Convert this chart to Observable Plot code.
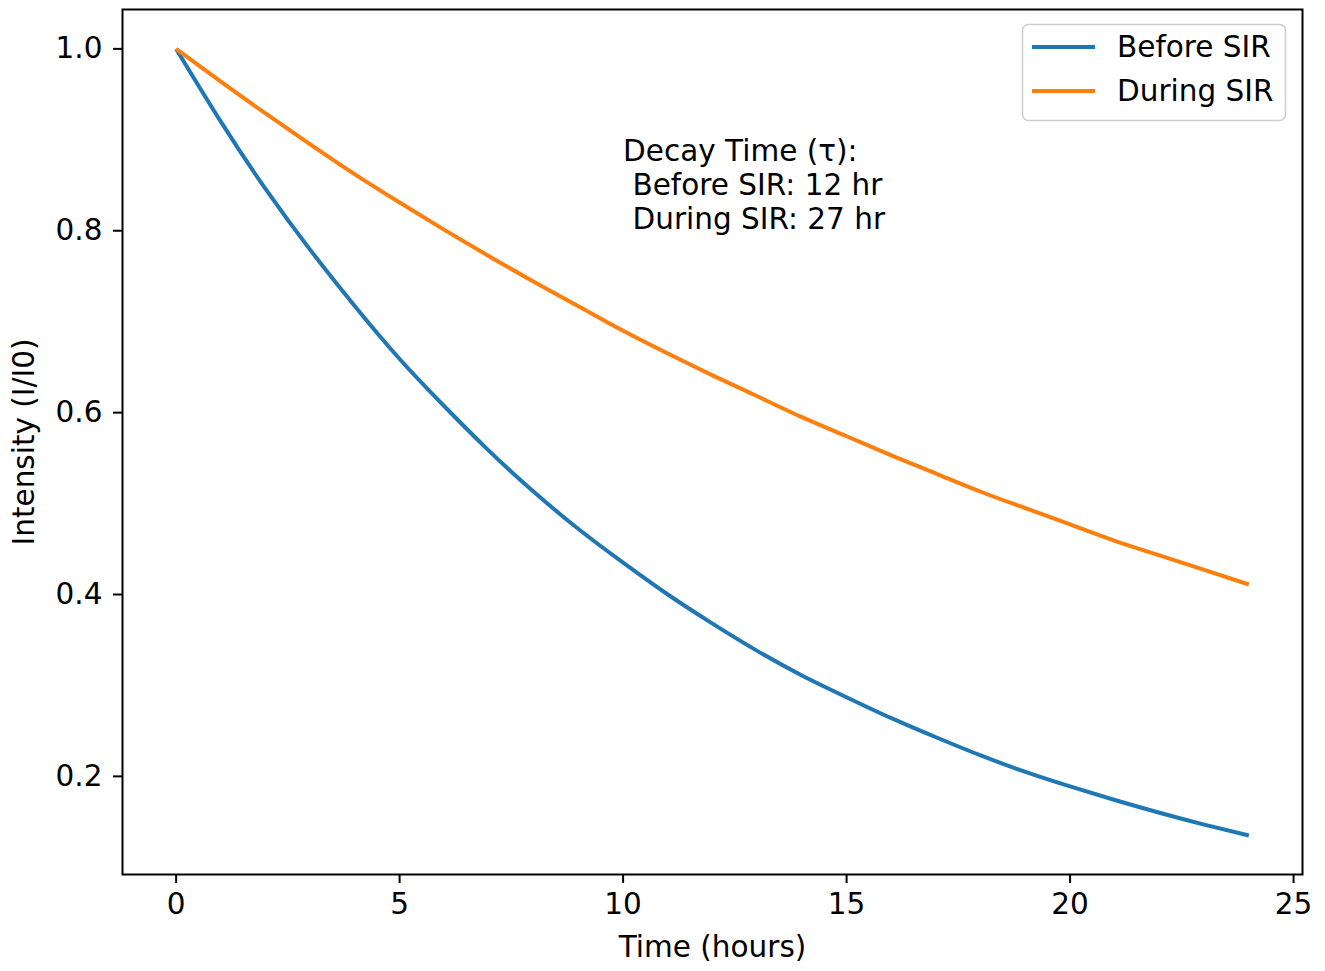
<!DOCTYPE html>
<html>
<head>
<meta charset="utf-8">
<script src="https://cdn.jsdelivr.net/npm/d3@7"></script>
<script src="https://cdn.jsdelivr.net/npm/@observablehq/plot@0.6"></script>
<style>
  html, body { margin: 0; padding: 0; background: white; }
  #chart { position: relative; width: 1325px; height: 971px; }
</style>
</head>
<body>
<div id="chart"></div>
<script>
// ---- data ----
const hours = [0,1,2,3,4,5,6,7,8,9,10,11,12,13,14,15,16,17,18,19,20,21,22,23,24];
const beforeSIR = [1.000,0.920,0.846,0.779,0.717,0.659,0.607,0.558,0.513,0.472,0.435,0.400,0.368,0.338,0.311,0.287,0.264,0.243,0.223,0.205,0.189,0.174,0.160,0.147,0.135];
const duringSIR = [1.000,0.964,0.929,0.895,0.862,0.831,0.801,0.772,0.744,0.717,0.690,0.665,0.641,0.618,0.595,0.574,0.553,0.533,0.513,0.495,0.477,0.459,0.443,0.427,0.411];
const seriesNames = ["Before SIR", "During SIR"];
const seriesColors = ["#1f77b4", "#ff7f0e"];
const xTicks = [0, 5, 10, 15, 20, 25];
const yTicks = [0.2, 0.4, 0.6, 0.8, 1.0];
const xLabel = "Time (hours)";
const yLabel = "Intensity (I/I0)";
const annotationLines = ["Decay Time (\u03c4):", "\u00a0Before SIR: 12 hr", "\u00a0During SIR: 27 hr"];
const annotationAt = {x: 10, y: 0.9};

const rows = [];
hours.forEach((t, i) => {
  rows.push({t, v: beforeSIR[i], series: seriesNames[0]});
});
hours.forEach((t, i) => {
  rows.push({t, v: duringSIR[i], series: seriesNames[1]});
});

const FONT = "DejaVu Sans";
const FS = 29.5;

const chart = Plot.plot({
  width: 1325,
  height: 971,
  marginLeft: 122,
  marginRight: 23,
  marginTop: 9,
  marginBottom: 97,
  style: {fontFamily: FONT, fontSize: FS + "px", color: "black", background: "white", overflow: "visible"},
  x: {domain: [-1.2, 25.2]},
  y: {domain: [0.0921, 1.0433]},
  color: {domain: seriesNames, range: seriesColors},
  marks: [
    Plot.line(rows, {x: "t", y: "v", z: "series", stroke: "series", strokeWidth: 4, curve: "natural", strokeLinecap: "butt"}),
    Plot.frame({stroke: "black", strokeWidth: 2}),
    Plot.axisX(xTicks, {tickSize: 9, tickPadding: 10, strokeWidth: 2, label: null, tickFormat: d => String(d)}),
    Plot.axisY(yTicks, {tickSize: 9, tickPadding: 11, strokeWidth: 2, label: null, tickFormat: d3.format(".1f")}),
    Plot.text([xLabel], {frameAnchor: "bottom", text: d => d, dy: 82, lineAnchor: "bottom", textAnchor: "middle", fill: "black"}),
    Plot.text([yLabel], {frameAnchor: "left", text: d => d, rotate: -90, dx: -89, lineAnchor: "bottom", textAnchor: "middle", fill: "black"}),
    Plot.text([annotationLines.join("\n")], {x: annotationAt.x, y: annotationAt.y, text: d => d, textAnchor: "start", lineAnchor: "top", lineHeight: 1.15, dy: -3, fill: "black"})
  ]
});

document.getElementById("chart").appendChild(chart);

// ---- legend (upper right, inside the frame) ----
const svg = d3.select(chart);
const leg = svg.append("g").attr("font-family", FONT).attr("font-size", FS).attr("text-anchor", "start");
leg.append("rect")
  .attr("x", 1022.5).attr("y", 24.5).attr("width", 263).attr("height", 96)
  .attr("rx", 6).attr("fill", "white").attr("fill-opacity", 0.8)
  .attr("stroke", "#cccccc").attr("stroke-width", 1.5);
seriesNames.forEach((name, i) => {
  const cy = 47 + i * 44;
  leg.append("line")
    .attr("x1", 1032).attr("x2", 1095).attr("y1", cy).attr("y2", cy)
    .attr("stroke", seriesColors[i]).attr("stroke-width", 4);
  leg.append("text")
    .attr("x", 1117).attr("y", cy + 10).attr("fill", "black").attr("text-anchor", "start").text(name);
});
</script>
</body>
</html>
